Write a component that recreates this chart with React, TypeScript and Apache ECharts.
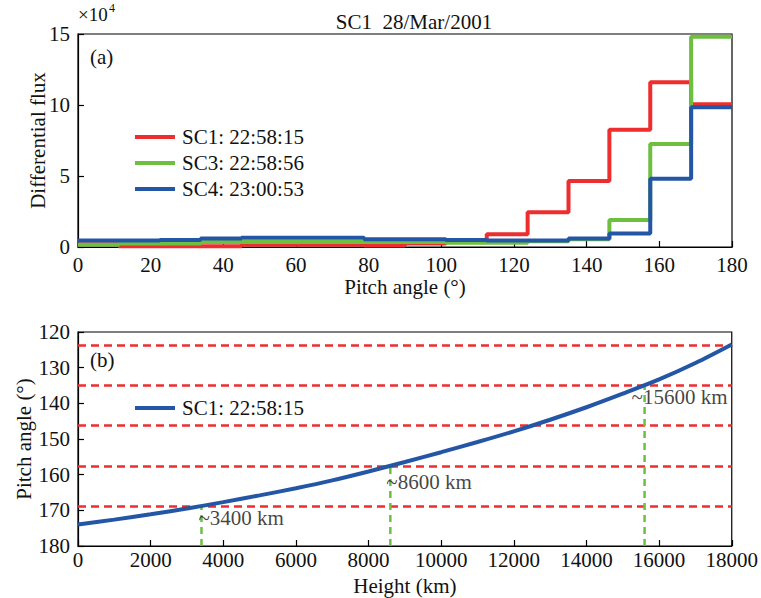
import React, { useEffect, useRef } from "react";
import * as echarts from "echarts";

// ---------- Panel (a): pitch-angle distribution (×10^4) ----------
const pitchBinEdges = [0, 11.25, 22.5, 33.75, 45, 56.25, 67.5, 78.75, 90, 101.25, 112.5, 123.75, 135, 146.25, 157.5, 168.75, 180];
const sc1Flux = [0.2, 0.05, 0.05, 0.05, 0.15, 0.15, 0.15, 0.1, 0.25, 0.5, 0.9, 2.45, 4.65, 8.25, 11.6, 10.05];
const sc3Flux = [0.15, 0.25, 0.25, 0.35, 0.35, 0.35, 0.35, 0.35, 0.35, 0.3, 0.3, 0.4, 0.55, 1.9, 7.25, 14.8];
const sc4Flux = [0.45, 0.45, 0.5, 0.6, 0.65, 0.65, 0.65, 0.55, 0.55, 0.5, 0.45, 0.45, 0.6, 0.95, 4.8, 9.85];
const fluxNames = ["SC1: 22:58:15", "SC3: 22:58:56", "SC4: 23:00:53"];

// ---------- Panel (b): pitch angle vs height ----------
const heightsKm = [0, 1000, 2000, 3000, 4000, 5000, 6000, 7000, 8000, 9000, 10000, 11000, 12000, 13000, 14000, 15000, 16000, 17000, 18000];
const pitchAngles = [174.0, 172.6, 171.1, 169.5, 167.7, 165.8, 163.8, 161.6, 159.1, 156.45, 153.7, 150.85, 147.85, 144.6, 141.1, 137.3, 133.3, 128.7, 123.5];
const curveName = "SC1: 22:58:15";
const markerHeights = [3400, 8600, 15600];
const markerAngles = [168.75, 157.5, 135];
const markerLabels = ["~3400 km", "~8600 km", "~15600 km"];

// styles
const RED = "#EE2E2E";
const GREEN = "#6CBF3F";
const BLUE = "#2456A6";
const FONT = "'Liberation Serif', 'Times New Roman', Times, serif";
const FS = 21;
const fluxColors = [RED, GREEN, BLUE];
const labelOffsets = [[-3, 12], [-4, 16], [-13, 11]];

export default function App() {
  const ref = useRef<HTMLDivElement>(null);
  useEffect(() => {
    document.body.style.margin = "0";
    const chart = echarts.init(ref.current!, null, { renderer: "svg" });
    const textStyle = { fontFamily: FONT, fontSize: FS, color: "#111" };
    const fluxSeries = [sc1Flux, sc3Flux, sc4Flux].map((vals, k) => ({
      type: "line",
      name: fluxNames[k],
      xAxisIndex: 0,
      yAxisIndex: 0,
      step: "end",
      showSymbol: false,
      symbol: "none",
      lineStyle: { color: fluxColors[k], width: 4 },
      itemStyle: { color: fluxColors[k] },
      data: vals.map((v, i) => [pitchBinEdges[i], v]).concat([[pitchBinEdges[vals.length], vals[vals.length - 1]]]),
      z: 2 + k,
    }));
    const markerLineSeries = markerHeights.map((h, i) => ({
      type: "line",
      xAxisIndex: 1,
      yAxisIndex: 1,
      showSymbol: false,
      symbol: "none",
      lineStyle: { color: GREEN, width: 2.5, type: [7, 5] },
      data: [[h, 180], [h, markerAngles[i]]],
      z: 2,
    }));
    const axisCommon = {
      axisLine: { show: true, lineStyle: { color: "#000", width: 1.2 } },
      axisTick: { show: true, inside: true, length: 6, lineStyle: { color: "#000", width: 1.2 } },
      splitLine: { show: false },
      nameTextStyle: textStyle,
      nameMoveOverlap: false,
    };
    const plain = (v: number) => String(v);
    chart.setOption({
      animation: false,
      backgroundColor: "#fff",
      textStyle: { fontFamily: FONT },
      title: {
        text: "SC1  28/Mar/2001",
        left: 409,
        top: 6,
        textAlign: "center",
        textStyle: { fontFamily: FONT, fontSize: FS, fontWeight: "normal", color: "#111" },
      },
      grid: [
        { left: 78, top: 34, width: 654, height: 213, show: true, borderColor: "#000", borderWidth: 1.2, backgroundColor: "transparent" },
        { left: 78, top: 332, width: 654, height: 214, show: true, borderColor: "#000", borderWidth: 1.2, backgroundColor: "transparent" },
      ],
      xAxis: [
        {
          ...axisCommon,
          type: "value",
          gridIndex: 0,
          min: 0,
          max: 180,
          interval: 20,
          name: "Pitch angle (°)",
          nameLocation: "middle",
          nameGap: 29,
          axisLabel: { ...textStyle, margin: 7, formatter: plain },
        },
        {
          ...axisCommon,
          type: "value",
          gridIndex: 1,
          min: 0,
          max: 18000,
          interval: 2000,
          name: "Height (km)",
          nameLocation: "middle",
          nameGap: 29,
          axisLabel: { ...textStyle, margin: 3, formatter: plain },
        },
      ],
      yAxis: [
        {
          ...axisCommon,
          type: "value",
          gridIndex: 0,
          min: 0,
          max: 15,
          interval: 5,
          name: "Differential flux",
          nameLocation: "middle",
          nameGap: 30,
          axisLabel: { ...textStyle, margin: 8, formatter: plain },
        },
        {
          ...axisCommon,
          type: "value",
          gridIndex: 1,
          min: 120,
          max: 180,
          interval: 10,
          inverse: true,
          name: "Pitch angle (°)",
          nameLocation: "middle",
          nameGap: 44,
          axisLabel: { ...textStyle, margin: 8, formatter: plain },
        },
      ],
      series: [
        ...fluxSeries,
        ...markerLineSeries,
        {
          type: "line",
          name: curveName,
          xAxisIndex: 1,
          yAxisIndex: 1,
          smooth: 0.3,
          showSymbol: false,
          symbol: "none",
          lineStyle: { color: BLUE, width: 4 },
          data: heightsKm.map((h, i) => [h, pitchAngles[i]]),
          z: 4,
          markLine: {
            silent: true,
            symbol: "none",
            label: { show: false },
            lineStyle: { color: RED, width: 2.5, type: [8, 5] },
            data: pitchBinEdges.filter((e) => e > 120 && e < 180).map((e) => ({ yAxis: e })),
            z: 1,
          },
        },
        {
          type: "scatter",
          xAxisIndex: 1,
          yAxisIndex: 1,
          symbolSize: 1,
          itemStyle: { color: "rgba(0,0,0,0)" },
          silent: true,
          z: 6,
          label: {
            show: true,
            position: "inside",
            align: "left",
            verticalAlign: "middle",
            fontFamily: FONT,
            fontSize: FS,
            color: "#111",
            formatter: (p: any) => markerLabels[p.dataIndex],
          },
          data: markerHeights.map((h, i) => ({
            value: [h, markerAngles[i]],
            label: { offset: labelOffsets[i] },
          })),
        },
      ],
      graphic: [
        { type: "text", left: 78, top: 5, style: { text: "×10", fontFamily: FONT, fontSize: 19, fill: "#111" } },
        { type: "text", left: 109, top: 2, style: { text: "4", fontFamily: FONT, fontSize: 12, fill: "#111" } },
        { type: "text", left: 90, top: 46, style: { text: "(a)", fontFamily: FONT, fontSize: FS, fill: "#111" } },
        { type: "text", left: 90, top: 349, style: { text: "(b)", fontFamily: FONT, fontSize: FS, fill: "#111" } },
        ...fluxNames.flatMap((n, k) => [
          { type: "line", shape: { x1: 135, y1: 137 + 26 * k, x2: 175, y2: 137 + 26 * k }, style: { stroke: fluxColors[k], lineWidth: 4 } },
          { type: "text", x: 182, y: 137 + 26 * k, style: { text: n, fontFamily: FONT, fontSize: FS, fill: "#111", textVerticalAlign: "middle", verticalAlign: "middle" } },
        ]),
        { type: "line", shape: { x1: 135, y1: 408, x2: 175, y2: 408 }, style: { stroke: BLUE, lineWidth: 4 } },
        { type: "text", x: 182, y: 408, style: { text: curveName, fontFamily: FONT, fontSize: FS, fill: "#111", textVerticalAlign: "middle", verticalAlign: "middle" } },
      ],
    });
    return () => chart.dispose();
  }, []);
  return <div ref={ref} style={{ width: 761, height: 598 }} />;
}
